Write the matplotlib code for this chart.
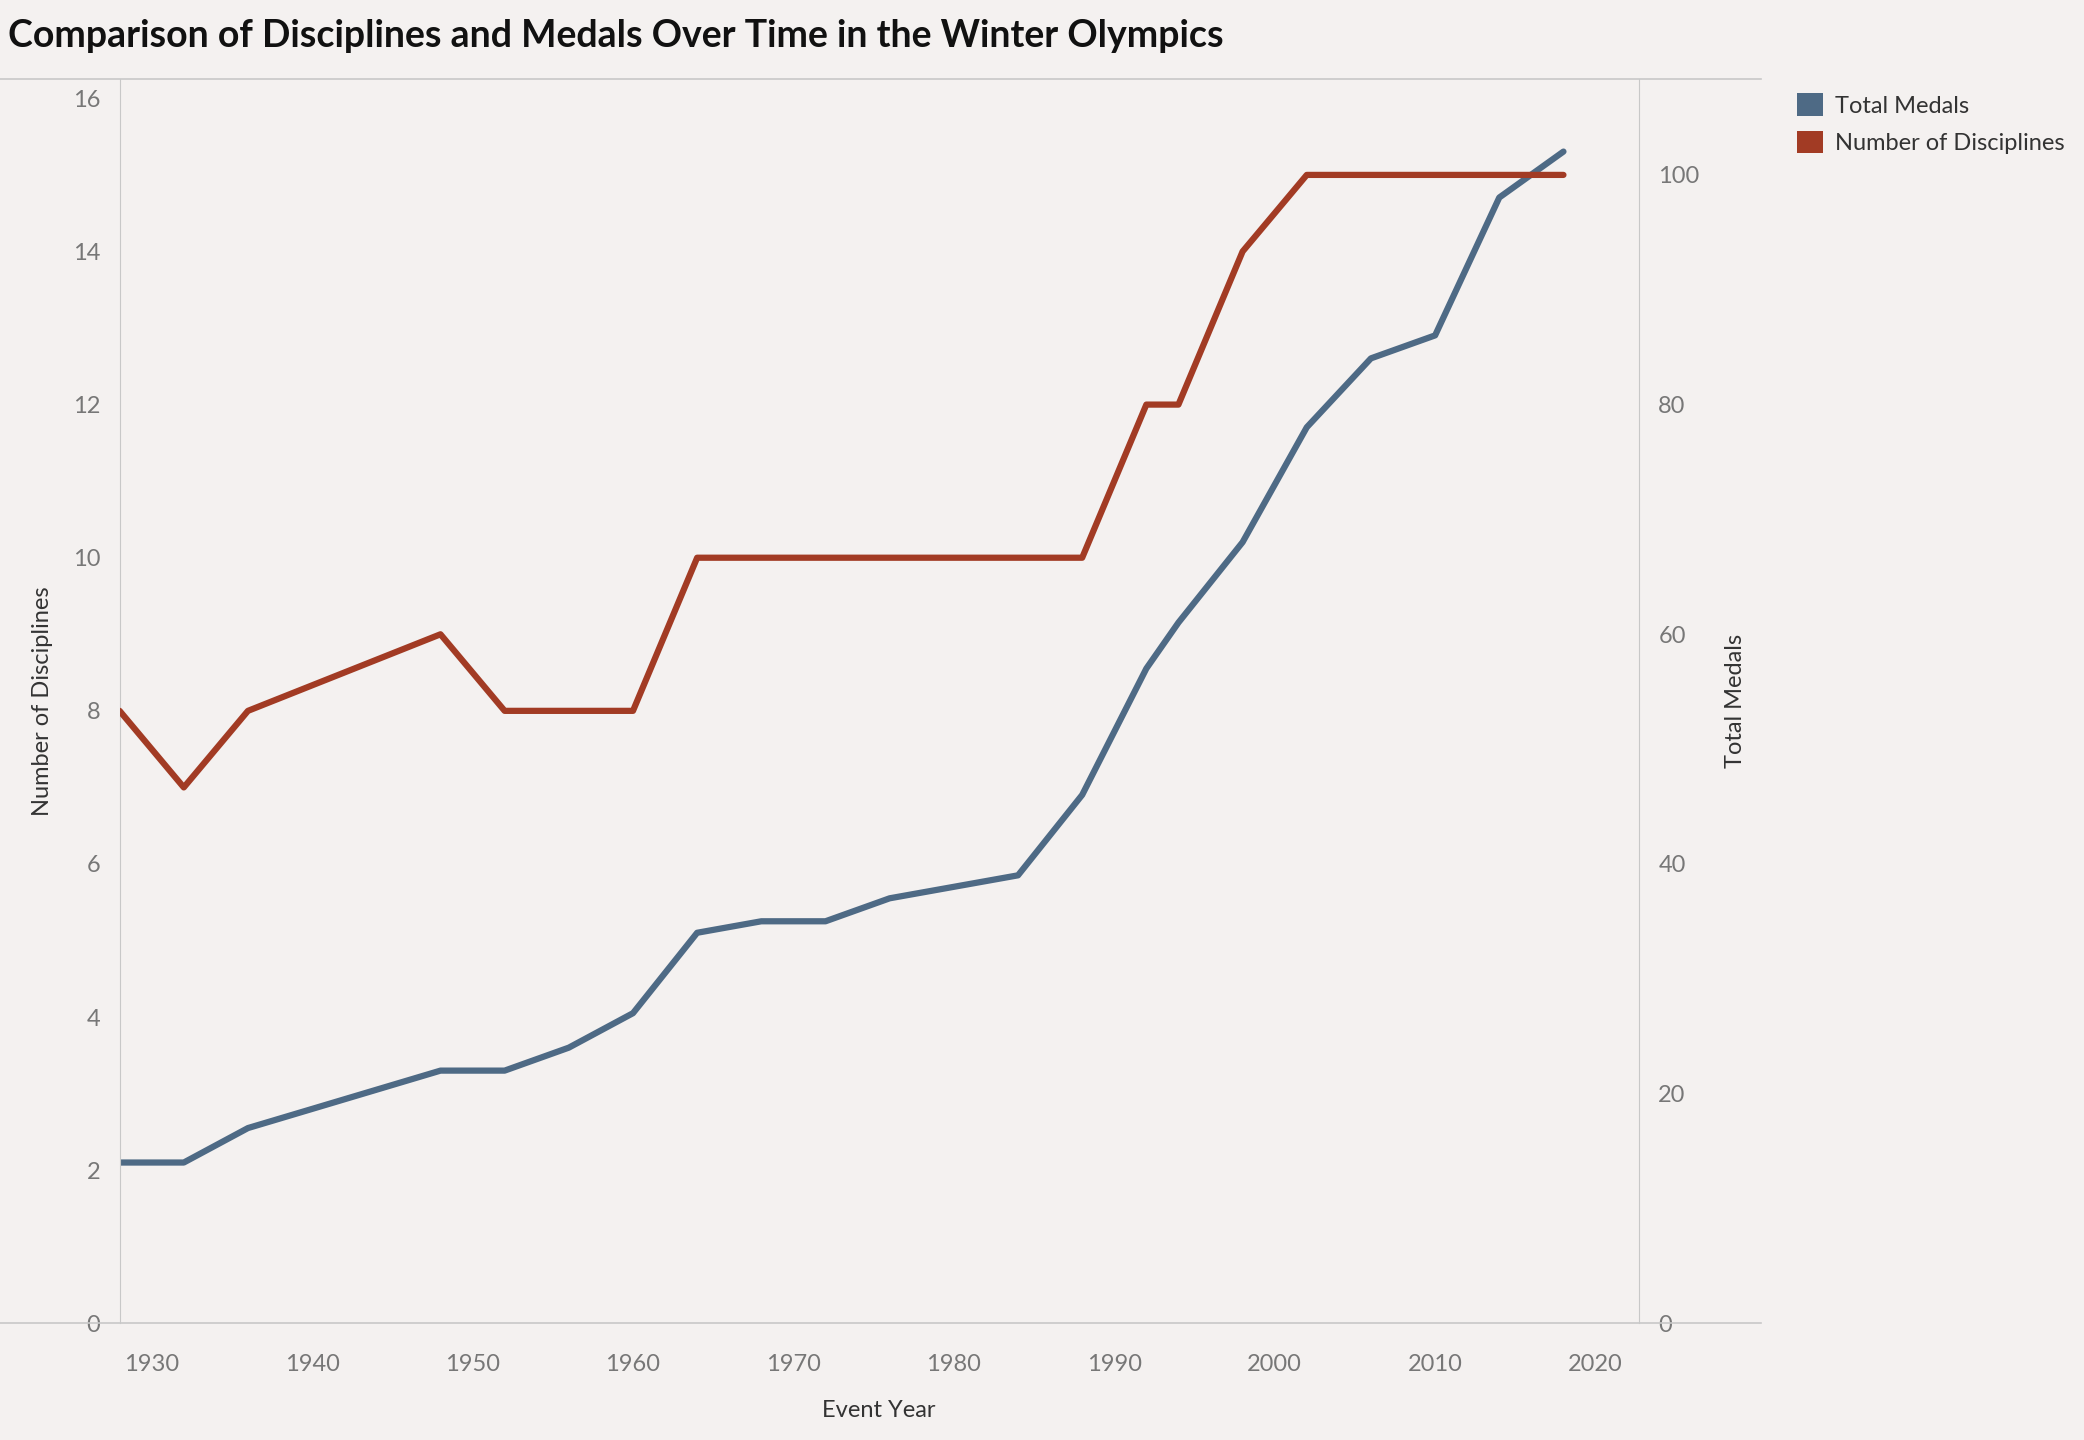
import matplotlib
matplotlib.use("Agg")
import matplotlib.pyplot as plt
from matplotlib.lines import Line2D
from matplotlib.patches import Patch

years = [1928, 1932, 1936, 1948, 1952, 1956, 1960, 1964, 1968, 1972, 1976,
         1980, 1984, 1988, 1992, 1994, 1998, 2002, 2006, 2010, 2014, 2018]
disciplines = [8, 7, 8, 9, 8, 8, 8, 10, 10, 10, 10,
               10, 10, 10, 12, 12, 14, 15, 15, 15, 15, 15]
medals = [14, 14, 17, 22, 22, 24, 27, 34, 35, 35, 37,
          38, 39, 46, 57, 61, 68, 78, 84, 86, 98, 102]

BG = "#F4F1F0"
BLUE = "#4E6A85"
RED = "#A23B24"
GRID = "#C8C8C8"
TXT = "#777777"

plt.rcParams["font.family"] = ["Lato", "DejaVu Sans"]

fig = plt.figure(figsize=(20.84, 14.4), dpi=100, facecolor=BG)
ax = fig.add_axes([0.0574, 0.081, 0.7290, 0.864], facecolor=BG)
ax2 = ax.twinx()

ax2.plot(years, medals, color=BLUE, lw=4.5, solid_capstyle="round", zorder=3)
ax.plot(years, disciplines, color=RED, lw=4.5, solid_capstyle="round", zorder=4)
ax.set_zorder(ax2.get_zorder() + 1)
ax.patch.set_visible(False)
ax2.patch.set_facecolor(BG)

ax.set_xlim(1928, 2022.7)
ax.set_ylim(0, 16.25)
ax2.set_ylim(0, 108.3)
ax.set_xticks(range(1930, 2021, 10))
ax.set_yticks(range(0, 17, 2))
ax2.set_yticks(range(0, 101, 20))

for a in (ax, ax2):
    for s in a.spines.values():
        s.set_visible(False)
    a.tick_params(length=0, labelsize=17, labelcolor=TXT)
ax.spines["left"].set_visible(True)
ax.spines["left"].set_color(GRID)
ax2.spines["right"].set_visible(True)
ax2.spines["right"].set_color(GRID)
ax.tick_params(axis="y", pad=14)
ax2.tick_params(axis="y", pad=14)
ax.tick_params(axis="x", pad=22)

ax.set_xlabel("Event Year", fontsize=17, color="#333333", labelpad=18)
ax.set_ylabel("Number of Disciplines", fontsize=17, color="#333333", labelpad=14)
ax2.set_ylabel("Total Medals", fontsize=17, color="#333333", labelpad=18)

# frame lines at top and bottom of plot area
for yf in (0.945, 0.081):
    fig.add_artist(Line2D([0, 0.845], [yf, yf], color=GRID, lw=1.2))

fig.text(0.004, 0.975, "Comparison of Disciplines and Medals Over Time in the Winter Olympics",
         fontsize=27, fontweight="bold", color="#111111", va="center")

handles = [Patch(facecolor=BLUE, label="Total Medals"),
           Patch(facecolor=RED, label="Number of Disciplines")]
fig.legend(handles=handles, loc="upper left", bbox_to_anchor=(0.852, 0.95),
           frameon=False, fontsize=17, labelcolor="#333333",
           handlelength=1.1, handleheight=1.1, handletextpad=0.5, labelspacing=0.6)

fig.savefig("out.png", dpi=100, facecolor=BG)
